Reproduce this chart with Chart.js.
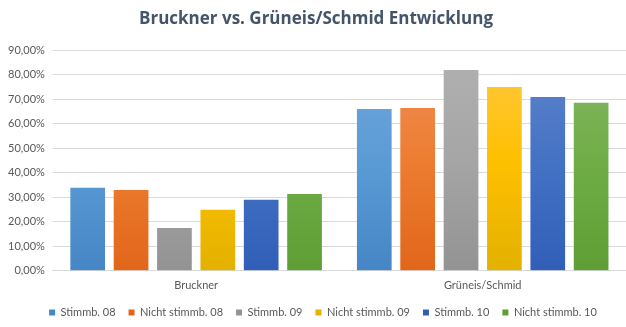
<!DOCTYPE html>
<html>
<head>
<meta charset="utf-8">
<script src="https://cdn.jsdelivr.net/npm/chart.js@4"></script>
<style>
  html, body { margin: 0; padding: 0; background: #fff; }
  #wrap { width: 626px; height: 327px; }
</style>
</head>
<body>
<div id="wrap"><canvas id="chart"></canvas></div>
<script>
const categories = ['Bruckner', 'Grüneis/Schmid'];
const seriesNames = ['Stimmb. 08', 'Nicht stimmb. 08', 'Stimmb. 09', 'Nicht stimmb. 09', 'Stimmb. 10', 'Nicht stimmb. 10'];
const stimmb08 = [33.9, 66.1];
const nichtStimmb08 = [33.0, 66.5];
const stimmb09 = [17.5, 82.0];
const nichtStimmb09 = [24.9, 75.1];
const stimmb10 = [29.0, 71.0];
const nichtStimmb10 = [31.4, 68.6];
const yTicks = [0, 10, 20, 30, 40, 50, 60, 70, 80, 90];

// top / middle / bottom colours of the gradient fills
const palette = [
    ['#72a7dc', '#5b9bd5', '#4686c6'],
    ['#f08f58', '#ed7d31', '#e1661a'],
    ['#b1b1b1', '#a5a5a5', '#939393'],
    ['#ffc845', '#ffc000', '#e3b100'],
    ['#6185cc', '#4472c4', '#315fb8'],
    ['#84b764', '#70ad47', '#5e9e34']
];

const values = [stimmb08, nichtStimmb08, stimmb09, nichtStimmb09, stimmb10, nichtStimmb10];

function gradient(cols) {
    return ctx => {
        const area = ctx.chart.chartArea;
        if (!area) return cols[1];
        const g = ctx.chart.ctx.createLinearGradient(0, area.top, 0, area.bottom);
        g.addColorStop(0, cols[0]);
        g.addColorStop(0.5, cols[1]);
        g.addColorStop(1, cols[2]);
        return g;
    };
}

const fmt = v => v.toFixed(2).replace('.', ',') + '%';
const font = 'Lato, "Open Sans", sans-serif';

// the legend sits a bit right of the canvas centre, like in Excel
const legendShift = {
    id: 'legendShift',
    afterLayout(chart) {
        chart.legend.left += 7;
        chart.legend.right += 7;
    }
};

new Chart(document.getElementById('chart'), {
    type: 'bar',
    data: {
        labels: categories,
        datasets: values.map((d, i) => ({
            label: seriesNames[i],
            data: d,
            backgroundColor: gradient(palette[i]),
            borderWidth: 0,
            barPercentage: 0.8,
            categoryPercentage: 0.908
        }))
    },
    options: {
        responsive: true,
        maintainAspectRatio: false,
        animation: false,
        layout: { padding: { left: 0, right: -6, top: 4, bottom: -1 } },
        plugins: {
            title: {
                display: true,
                text: 'Bruckner vs. Grüneis/Schmid Entwicklung',
                color: '#44546a',
                font: { family: '"Open Sans", sans-serif', size: 17, weight: 'bold' },
                padding: { top: 5, bottom: 21 }
            },
            legend: {
                position: 'bottom',
                labels: {
                    color: '#595959',
                    font: { family: font, size: 11 },
                    boxWidth: 6,
                    boxHeight: 6,
                    padding: 13
                }
            },
            tooltip: { enabled: false }
        },
        scales: {
            x: {
                grid: { display: false },
                border: { color: '#d9d9d9' },
                ticks: { color: '#595959', font: { family: font, size: 11 }, padding: 0 },
                afterFit: axis => { axis.height += 2; }
            },
            y: {
                min: 0,
                max: 90,
                afterBuildTicks: axis => { axis.ticks = yTicks.map(v => ({ value: v })); },
                grid: { color: '#d9d9d9', drawTicks: false },
                border: { display: false },
                ticks: { color: '#595959', font: { family: font, size: 11 }, padding: 8, callback: v => fmt(v) }
            }
        }
    },
    plugins: [legendShift]
});
</script>
</body>
</html>
